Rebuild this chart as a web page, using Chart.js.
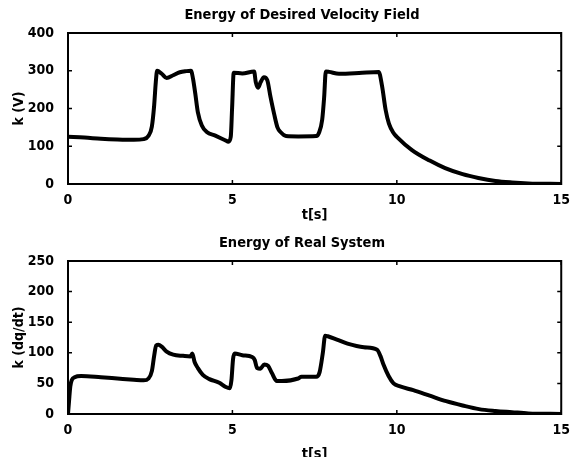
<!DOCTYPE html>
<html>
<head>
<meta charset="utf-8">
<script src="https://cdn.jsdelivr.net/npm/chart.js@4"></script>
<style>
  body { margin: 0; background: #fff; overflow: hidden; }
  .box { position: absolute; left: 0; width: 578px; }
</style>
</head>
<body>
<div class="box" style="top:0"><canvas id="graficoV" width="578" height="228"></canvas></div>
<div class="box" style="top:228px"><canvas id="graficoQ" width="578" height="240"></canvas></div>
<script>
// energia do campo de velocidade desejado
const tempoV = [0, 0.5, 1.0, 1.5, 2.0, 2.3, 2.45, 2.55, 2.62, 2.67, 2.71, 2.85, 3.0, 3.2, 3.4, 3.6, 3.74, 3.8, 3.87, 3.95, 4.07, 4.22, 4.48, 4.78, 4.88, 4.95, 4.99, 5.04, 5.3, 5.66, 5.71, 5.78, 5.86, 5.96, 6.06, 6.16, 6.27, 6.37, 6.47, 6.63, 7.0, 7.55, 7.63, 7.73, 7.79, 7.84, 7.94, 8.24, 8.85, 9.45, 9.55, 9.66, 9.76, 9.9, 10.0, 10.46, 11.0, 11.47, 12.0, 12.48, 13.0, 13.5, 14.0, 15];
const energiaV = [125, 123, 120, 118, 117, 119, 128, 152, 208, 270, 300, 292, 281, 288, 296, 299, 300, 280, 240, 190, 155, 138, 128, 116, 112, 125, 200, 295, 293, 298, 270, 255, 270, 283, 275, 230, 185, 150, 137, 127, 126, 127, 135, 170, 230, 298, 297, 292, 294, 297, 260, 196, 160, 135, 125, 90, 62, 42, 26, 16, 8, 4, 1.5, 0];

// energia do sistema real
const tempoQ = [0, 0.03, 0.07, 0.12, 0.2, 0.4, 1.0, 1.5, 2.0, 2.3, 2.45, 2.55, 2.62, 2.68, 2.75, 2.85, 3.0, 3.2, 3.5, 3.72, 3.78, 3.85, 3.95, 4.1, 4.3, 4.6, 4.8, 4.92, 4.97, 5.02, 5.07, 5.3, 5.6, 5.68, 5.75, 5.85, 5.97, 6.08, 6.2, 6.35, 6.5, 7.0, 7.1, 7.55, 7.65, 7.75, 7.82, 7.9, 8.2, 8.5, 9.0, 9.4, 9.5, 9.6, 9.75, 9.9, 10.1, 10.5, 11.0, 11.5, 12.0, 12.5, 13.0, 13.5, 14.0, 15];
const energiaQ = [0, 20, 45, 56, 60, 62, 60, 58, 56, 55, 58, 70, 95, 112, 113, 110, 102, 97, 95, 94, 99, 85, 75, 64, 57, 51, 44, 42, 55, 90, 99, 96, 93, 88, 75, 74, 81, 79, 67, 54, 54, 58, 61, 61, 68, 100, 128, 127, 121, 115, 109, 105, 95, 80, 62, 50, 45, 39, 30, 21, 14, 8, 5, 3, 1, 0];

const ticksX = [0, 5, 10, 15];

const fonteTick = { family: "'DejaVu Sans Condensed', 'DejaVu Sans', sans-serif", size: 14, weight: 'bold' };
const fonteTitulo = { family: "'DejaVu Sans Condensed', 'DejaVu Sans', sans-serif", size: 14.5, weight: 'bold' };

// eixo y volta a ocupar a margem esquerda inteira (o padding so serve para deslocar o titulo)
const eixoEsquerdo = {
  id: 'eixoEsquerdo',
  afterLayout(chart) {
    chart.scales.y.left = 0;
  }
};

// moldura + marcas de escala para dentro
const moldura = {
  id: 'moldura',
  afterDraw(chart) {
    const { ctx, chartArea: a, scales } = chart;
    ctx.save();
    ctx.strokeStyle = '#000';
    ctx.lineWidth = 1.5;
    scales.x.ticks.forEach(t => {
      const px = scales.x.getPixelForValue(t.value);
      ctx.beginPath();
      ctx.moveTo(px, a.bottom); ctx.lineTo(px, a.bottom - 4);
      ctx.moveTo(px, a.top); ctx.lineTo(px, a.top + 4);
      ctx.stroke();
    });
    scales.y.ticks.forEach(t => {
      const py = scales.y.getPixelForValue(t.value);
      ctx.beginPath();
      ctx.moveTo(a.left, py); ctx.lineTo(a.left + 4, py);
      ctx.moveTo(a.right, py); ctx.lineTo(a.right - 4, py);
      ctx.stroke();
    });
    ctx.lineWidth = 2;
    ctx.strokeRect(a.left, a.top, a.right - a.left, a.bottom - a.top);
    ctx.restore();
  }
};

function geraGrafico(id, titulo, rotuloY, tempo, energia, maxY, passoY, alturaX, padTs) {
  const pontos = tempo.map((t, i) => ({ x: t, y: energia[i] }));
  new Chart(document.getElementById(id), {
    type: 'line',
    data: {
      datasets: [{
        data: pontos,
        borderColor: '#000',
        borderWidth: 4,
        pointRadius: 0,
        cubicInterpolationMode: 'monotone',
        fill: false
      }]
    },
    options: {
      responsive: false,
      animation: false,
      layout: { padding: { left: 40, right: 14, top: 0, bottom: 0 } },
      plugins: {
        legend: { display: false },
        tooltip: { enabled: false },
        title: {
          display: true,
          text: titulo,
          color: '#000',
          font: fonteTitulo,
          padding: { top: 7, bottom: 8.6 }
        }
      },
      scales: {
        x: {
          type: 'linear',
          min: 0,
          max: 15,
          afterBuildTicks: s => { s.ticks = ticksX.map(v => ({ value: v })); },
          afterFit: s => { s.height = alturaX; },
          ticks: { color: '#000', font: fonteTick, padding: 8, maxRotation: 0 },
          grid: { display: false, drawTicks: false },
          border: { display: false },
          title: { display: true, text: 't[s]', color: '#000', font: fonteTitulo, padding: { top: 2, bottom: padTs } }
        },
        y: {
          min: 0,
          max: maxY,
          afterFit: s => { s.width = 28; },
          ticks: { stepSize: passoY, color: '#000', font: fonteTick, padding: 14 },
          grid: { display: false, drawTicks: false },
          border: { display: false },
          title: { display: true, text: rotuloY, color: '#000', font: fonteTick, padding: { top: 11, bottom: 0 } }
        }
      }
    },
    plugins: [eixoEsquerdo, moldura]
  });
}

geraGrafico('graficoV', 'Energy of Desired Velocity Field', 'k (V)', tempoV, energiaV, 400, 100, 44, 4);
geraGrafico('graficoQ', 'Energy of Real System', 'k (dq/dt)', tempoQ, energiaQ, 250, 50, 54, 5);
</script>
</body>
</html>
